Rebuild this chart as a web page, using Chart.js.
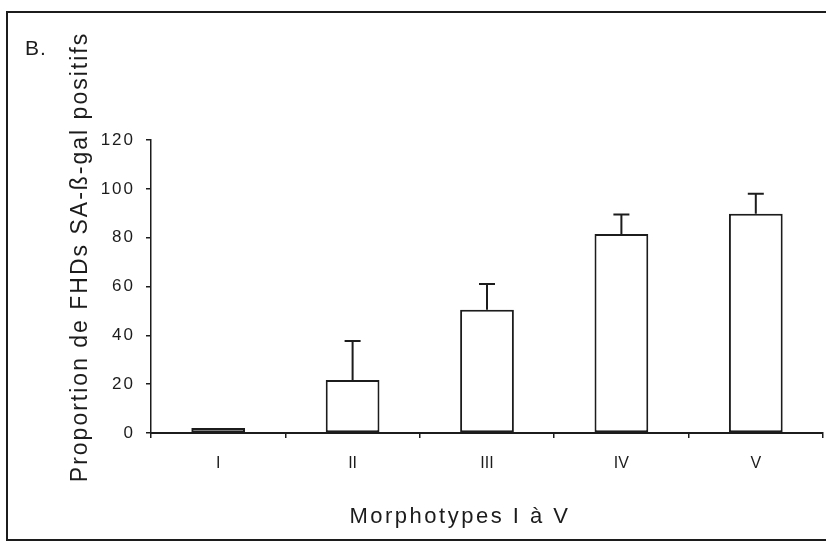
<!DOCTYPE html>
<html>
<head>
<meta charset="utf-8">
<script src="https://cdn.jsdelivr.net/npm/chart.js@4"></script>
<style>
  html, body { margin: 0; padding: 0; background: #fff; }
  #wrap { width: 826px; height: 548px; position: relative; }
</style>
</head>
<body>
<div id="wrap"><canvas id="morphoChart" width="826" height="548"></canvas></div>
<script>
// Morphotypes I-V, proportion of SA-beta-gal positive cells
const categories = ["I", "II", "III", "IV", "V"]
const means = [2, 21.7, 50.5, 81.5, 89.8]
const errors = [0, 16, 10.5, 8, 8.2]
const yTicks = [0, 20, 40, 60, 80, 100, 120]

const ink = "#1c1c1c"
const font = "'Liberation Sans', Arial, Helvetica, sans-serif"

// upper error bars, drawn from the scales
const errorBars = {
  id: "errorBars",
  afterDatasetsDraw(chart) {
    const ctx = chart.ctx
    const meta = chart.getDatasetMeta(0)
    const y = chart.scales.y
    ctx.save()
    ctx.strokeStyle = ink
    ctx.lineWidth = 2
    meta.data.forEach((bar, i) => {
      if (!errors[i]) return
      const top = y.getPixelForValue(means[i] + errors[i])
      const base = y.getPixelForValue(means[i])
      ctx.beginPath()
      ctx.moveTo(bar.x, base)
      ctx.lineTo(bar.x, top)
      ctx.moveTo(bar.x - 8, top)
      ctx.lineTo(bar.x + 8, top)
      ctx.stroke()
    })
    ctx.restore()
  }
}

// frame, panel letter and axis titles
const decor = {
  id: "decor",
  afterDraw(chart) {
    const ctx = chart.ctx
    ctx.save()
    ctx.strokeStyle = ink
    ctx.lineWidth = 2
    ctx.beginPath()
    ctx.moveTo(826, 12)
    ctx.lineTo(7, 12)
    ctx.lineTo(7, 540)
    ctx.lineTo(826, 540)
    ctx.stroke()

    ctx.fillStyle = ink
    ctx.textBaseline = "alphabetic"
    ctx.letterSpacing = "1px"
    ctx.font = "21px " + font
    ctx.fillText("B.", 25, 55)

    ctx.font = "22px " + font
    ctx.letterSpacing = "2.5px"
    ctx.textAlign = "center"
    ctx.textBaseline = "middle"
    ctx.fillText("Morphotypes I à V", 460, 517)

    ctx.translate(87, 257)
    ctx.rotate(-Math.PI / 2)
    ctx.textBaseline = "alphabetic"
    ctx.font = "23px " + font
    ctx.letterSpacing = "2px"
    ctx.fillText("Proportion de FHDs SA-ß-gal positifs", 0, 0)
    ctx.restore()
  }
}

new Chart(document.getElementById("morphoChart"), {
  type: "bar",
  data: {
    labels: categories,
    datasets: [{
      data: means,
      backgroundColor: "#ffffff",
      borderColor: ink,
      borderWidth: 2,
      borderSkipped: false,
      categoryPercentage: 1,
      barPercentage: 0.4
    }]
  },
  options: {
    responsive: false,
    animation: false,
    events: [],
    layout: { padding: { top: 140, right: 3, left: 0, bottom: 0 } },
    plugins: { legend: { display: false }, tooltip: { enabled: false } },
    scales: {
      x: {
        grid: { offset: true, drawOnChartArea: false, drawTicks: true, tickLength: 5, color: ink, lineWidth: 1.5 },
        border: { display: true, color: ink, width: 2 },
        ticks: { color: ink, font: { size: 16, family: font }, padding: 16, maxRotation: 0 },
        afterFit(scale) { scale.height = 548 - 433 }
      },
      y: {
        min: 0,
        max: 120,
        afterBuildTicks(scale) { scale.ticks = yTicks.map(v => ({ value: v })) },
        grid: { drawOnChartArea: false, drawTicks: true, tickLength: 5, color: ink, lineWidth: 1.5 },
        border: { display: true, color: ink, width: 1.5 },
        ticks: { color: ink, font: { size: 17, family: font }, padding: 11 },
        afterFit(scale) {
          scale.width = 151
          // wider digit spacing on the value axis only
          if (!scale._spaced) {
            const draw = scale.drawLabels
            scale.drawLabels = function (area) {
              this.ctx.save()
              this.ctx.letterSpacing = "2px"
              draw.call(this, area)
              this.ctx.restore()
            }
            scale._spaced = true
          }
        }
      }
    }
  },
  plugins: [errorBars, decor]
})
</script>
</body>
</html>
